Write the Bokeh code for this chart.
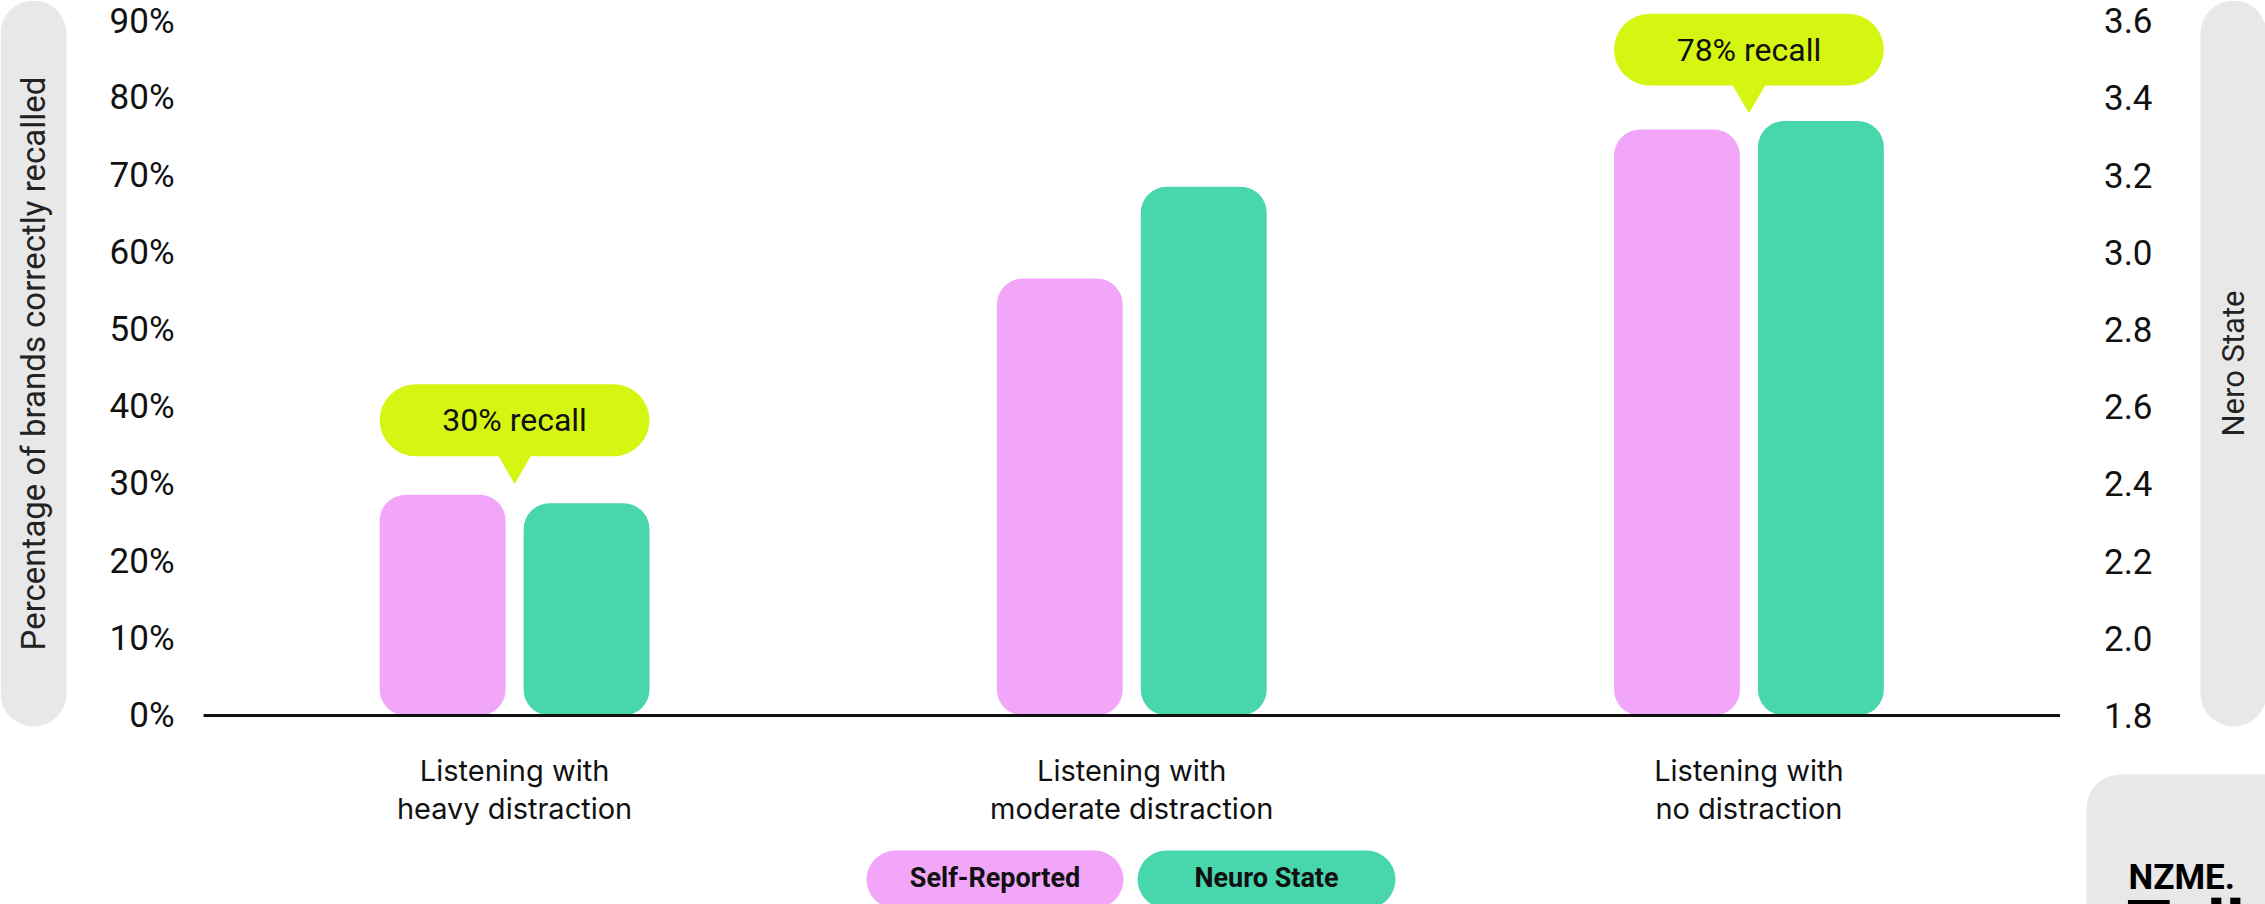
from math import pi

from bokeh.core.properties import value
from bokeh.embed import file_html
from bokeh.models import (BoxAnnotation, ColumnDataSource, FixedTicker, Label,
                          LinearAxis, Range1d)
from bokeh.plotting import figure
from bokeh.resources import INLINE

# ---- data -------------------------------------------------------------
categories = [
    "Listening with\nheavy distraction",
    "Listening with\nmoderate distraction",
    "Listening with\nno distraction",
]
series_names = ["Self-Reported", "Neuro State"]
self_reported = [28.6, 56.6, 75.9]      # % of brands correctly recalled (left axis)
neuro_state = [2.35, 3.17, 3.34]        # Nero State score (right axis)

recall_groups = [0, 2]                  # index of the category each callout belongs to
recall_values = [30, 78]

pct_ticks = [0, 10, 20, 30, 40, 50, 60, 70, 80, 90]
pct_labels = ["0%", "10%", "20%", "30%", "40%", "50%", "60%", "70%", "80%", "90%"]
nero_ticks = [1.8, 2.0, 2.2, 2.4, 2.6, 2.8, 3.0, 3.2, 3.4, 3.6]
nero_labels = ["1.8", "2.0", "2.2", "2.4", "2.6", "2.8", "3.0", "3.2", "3.4", "3.6"]

# ---- style ------------------------------------------------------------
PINK = "#F1A6FA"
GREEN = "#48D6AC"
LIME = "#D4F612"
PILL = "#E8E8E8"
INK = "#111111"
FONT = "Roboto"
CAT_FONT = "Inter"

W, H = 2265, 904

# the plotting frame fills the whole canvas; axes sit at fixed locations
X_LO, X_HI = -0.833, 2.837
PCT_LO, PCT_HI = -24.48, 92.62
NERO_BASE = 1.8


def to_nero(pct):
    return NERO_BASE + pct / 10 * 0.2


cat_pos = list(range(len(categories)))
EDGE = 0.504                              # half-span of a category slot, to the axis

p = figure(
    width=W, height=H,
    x_range=Range1d(X_LO, X_HI), y_range=Range1d(PCT_LO, PCT_HI),
    x_axis_location=None, y_axis_location=None,
    output_backend="svg", toolbar_location=None,
    min_border=0,
)
p.extra_y_ranges = {"nero": Range1d(to_nero(PCT_LO), to_nero(PCT_HI))}
p.outline_line_color = None
p.background_fill_color = "white"
p.border_fill_color = "white"
p.xgrid.visible = False
p.ygrid.visible = False


def canvas_box(left, right, top, bottom, color, radius):
    return BoxAnnotation(left=left, right=right, top=top, bottom=bottom,
                         left_units="canvas", right_units="canvas",
                         top_units="canvas", bottom_units="canvas",
                         fill_color=color, fill_alpha=1.0, line_color=None,
                         border_radius=radius, level="underlay")


# side panels, legend pills, brand block
p.add_layout(canvas_box(0, 66, 0, 726, PILL, 33))
p.add_layout(canvas_box(2200, 2266, 0, 726, PILL, 33))
legend_colors = [PINK, GREEN]
legend_spans = [(866, 1123), (1137, 1395)]
for color, (l, r) in zip(legend_colors, legend_spans):
    p.add_layout(canvas_box(l, r, 850, 908, color, 29))
p.add_layout(canvas_box(2086, 2330, 774, 980, PILL, 34))

# ---- bars -------------------------------------------------------------
BAR_W = 0.204
OFF = 0.1166
src = ColumnDataSource(dict(
    x_self=[c - OFF for c in cat_pos],
    x_neuro=[c + OFF for c in cat_pos],
    self_reported=self_reported,
    neuro_state=neuro_state,
))
p.vbar(x="x_self", top="self_reported", bottom=0, width=BAR_W, source=src,
       fill_color=PINK, line_color=None, border_radius=26)
p.vbar(x="x_neuro", top="neuro_state", bottom=NERO_BASE, width=BAR_W, source=src,
       fill_color=GREEN, line_color=None, border_radius=26, y_range_name="nero")

# baseline under the bars
p.segment(x0=cat_pos[0] - EDGE, x1=cat_pos[-1] + EDGE, y0=0, y1=0,
          line_color=INK, line_width=3)

# ---- recall callouts ----------------------------------------------------
HALF = OFF + BAR_W / 2
bub = ColumnDataSource(dict(
    x=[cat_pos[i] for i in recall_groups],
    label=[f"{v}% recall" for v in recall_values],
    mid=[v + 8.25 for v in recall_values],
))
p.quad(left=[cat_pos[i] - HALF for i in recall_groups],
       right=[cat_pos[i] + HALF for i in recall_groups],
       bottom=[v + 3.6 for v in recall_values], top=[v + 12.9 for v in recall_values],
       fill_color=LIME, line_color=None, border_radius=36)
p.patches(
    xs=[[cat_pos[i] - 0.0284, cat_pos[i] + 0.0284, cat_pos[i]] for i in recall_groups],
    ys=[[v + 3.9, v + 3.9, v] for v in recall_values],
    fill_color=LIME, line_color=None,
)
p.text(x="x", y="mid", text="label", source=bub, text_font=value(FONT),
       text_font_size="32px", text_align="center", text_baseline="middle",
       text_color=INK)

# ---- axes -------------------------------------------------------------
def style_value_axis(ax, standoff):
    ax.axis_line_color = None
    ax.major_tick_line_color = None
    ax.minor_tick_line_color = None
    ax.major_label_text_font = FONT
    ax.major_label_text_font_size = "35px"
    ax.major_label_text_color = INK
    ax.major_label_standoff = standoff


la = LinearAxis(ticker=FixedTicker(ticks=pct_ticks),
                major_label_overrides=dict(zip(pct_ticks, pct_labels)),
                fixed_location=cat_pos[0] - EDGE)
style_value_axis(la, 23)
p.add_layout(la, "left")

ra = LinearAxis(y_range_name="nero", ticker=FixedTicker(ticks=nero_ticks),
                major_label_overrides=dict(zip(nero_ticks, nero_labels)),
                fixed_location=cat_pos[-1] + EDGE)
style_value_axis(ra, 38)
p.add_layout(ra, "right")

ba = LinearAxis(ticker=FixedTicker(ticks=cat_pos),
                major_label_overrides=dict(zip(cat_pos, categories)),
                fixed_location=0)
ba.axis_line_color = None
ba.major_tick_line_color = None
ba.minor_tick_line_color = None
ba.major_label_text_font = CAT_FONT
ba.major_label_text_font_size = "29px"
ba.major_label_text_color = INK
ba.major_label_text_line_height = 1.1
ba.major_label_standoff = 31
p.add_layout(ba, "below")

# ---- axis titles, legend text, brand mark ----------------------------------
def canvas_label(x, y, text, size, **kw):
    return Label(x=x, y=y, x_units="canvas", y_units="canvas", text=text,
                 text_font=FONT, text_font_size=size, **kw)


p.add_layout(canvas_label(33, 363, "Percentage of brands correctly recalled", "33px",
                          angle=pi / 2, text_align="center", text_baseline="middle",
                          text_color="#222222"))
p.add_layout(canvas_label(2233, 363, "Nero State", "31px",
                          angle=pi / 2, text_align="center", text_baseline="middle",
                          text_color="#222222"))
for name, (l, r) in zip(series_names, legend_spans):
    p.add_layout(canvas_label((l + r) / 2, 877, name, "27px", text_align="center",
                              text_baseline="middle", text_font_style="bold",
                              text_color=INK))
p.add_layout(canvas_label(2128, 877, "NZME.", "35px", text_align="left",
                          text_baseline="alphabetic", text_font_style="bold",
                          text_color="black"))
p.add_layout(canvas_label(2126, 884, "Tell", "72px", text_align="left",
                          text_baseline="top", text_font_style="bold",
                          text_color="black"))

open("out.html", "w").write(file_html(p, INLINE))
